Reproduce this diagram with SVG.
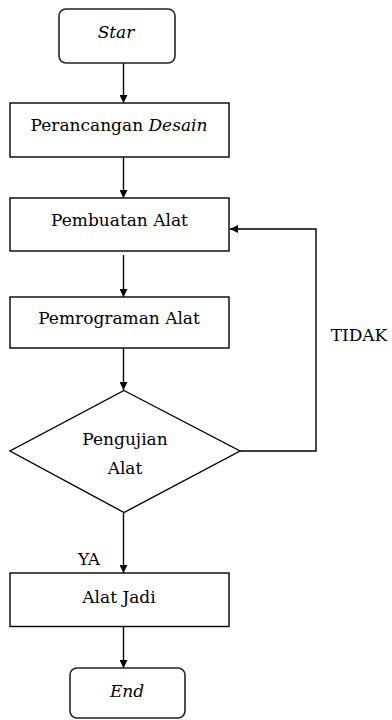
<svg xmlns="http://www.w3.org/2000/svg" width="392" height="720" viewBox="0 0 392 720">
<style>
.box{fill:#fff;stroke:#000;stroke-width:1.4}
.term{fill:#fff;stroke:#222;stroke-width:1.6}
text{font-family:'DejaVu Serif',serif;font-size:17px;fill:#000;text-anchor:middle}
.i{font-style:italic}
.c{fill:none;stroke:#000;stroke-width:1.4}
</style>
<defs>
<marker id="ah" viewBox="0 0 10 10" refX="10" refY="5" markerWidth="8" markerHeight="8" markerUnits="userSpaceOnUse" orient="auto">
<path d="M0,0 L10,5 L0,10 Z" fill="#000"/>
</marker>
</defs>
<rect width="392" height="720" fill="#fff"/>
<g id="connectors">
<line class="c" x1="123.5" y1="63" x2="123.5" y2="103" marker-end="url(#ah)"/>
<line class="c" x1="123.5" y1="157" x2="123.5" y2="198" marker-end="url(#ah)"/>
<line class="c" x1="123.5" y1="255" x2="123.5" y2="297" marker-end="url(#ah)"/>
<line class="c" x1="123.5" y1="348" x2="123.5" y2="390" marker-end="url(#ah)"/>
<polyline class="c" points="240,451 316,451 316,229 230,229" marker-end="url(#ah)"/>
<line class="c" x1="123.5" y1="513" x2="123.5" y2="573" marker-end="url(#ah)"/>
<line class="c" x1="123.5" y1="627" x2="123.5" y2="668" marker-end="url(#ah)"/>
<text x="359" y="341">TIDAK</text>
<text x="89" y="565">YA</text>
</g>
<g id="start">
<rect class="term" x="59" y="9" width="116" height="54" rx="7"/>
<text class="i" x="116" y="38">Star</text>
</g>
<g id="perancangan">
<rect class="box" x="10" y="103" width="219" height="54"/>
<text x="119" y="131">Perancangan <tspan class="i">Desain</tspan></text>
</g>
<g id="pembuatan">
<rect class="box" x="10" y="198" width="219" height="53"/>
<text x="119.5" y="226">Pembuatan Alat</text>
</g>
<g id="pemrograman">
<rect class="box" x="10" y="297" width="219" height="51"/>
<text x="119" y="324">Pemrograman Alat</text>
</g>
<g id="pengujian">
<polygon class="box" points="124,390.5 240,451 124,512.5 10,451"/>
<text x="125" y="445">Pengujian</text>
<text x="125" y="474">Alat</text>
</g>
<g id="alatjadi">
<rect class="box" x="10" y="573" width="219" height="53.5"/>
<text x="119" y="602.5">Alat Jadi</text>
</g>
<g id="end">
<rect class="term" x="70" y="668" width="115" height="50" rx="7"/>
<text class="i" x="127" y="696.5">End</text>
</g>
</svg>
